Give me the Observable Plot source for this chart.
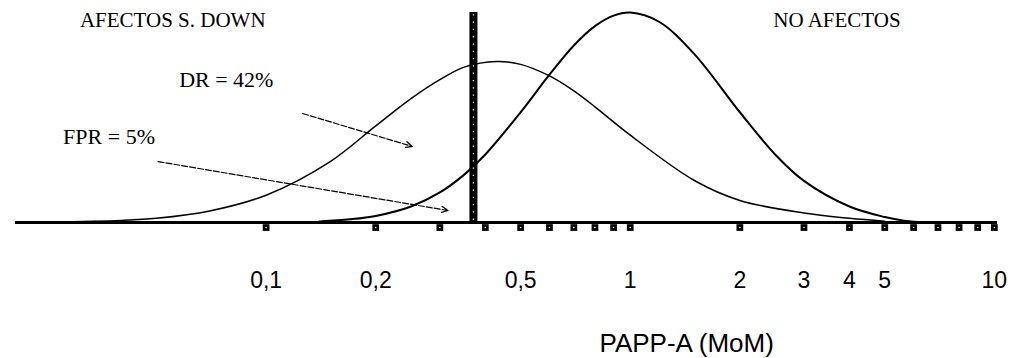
<!DOCTYPE html>
<html>
<head>
<meta charset="utf-8">
<script src="https://cdn.jsdelivr.net/npm/d3@7"></script>
<script src="https://cdn.jsdelivr.net/npm/@observablehq/plot@0.6"></script>
<style>
  body { margin: 0; background: #fff; }
  #chart svg { display: block; }
</style>
</head>
<body>
<div id="chart"></div>
<script>
// PAPP-A (MoM) values and relative frequency (peak of unaffected = 100)
const unaffectedMoM = [0.14, 0.17, 0.2, 0.25, 0.3, 0.35, 0.4, 0.5, 0.6, 0.7, 0.8, 0.9, 1, 1.2, 1.5, 2, 2.5, 3, 4, 5, 5.6, 6.2];
const unaffectedFreq = [0.5, 1.5, 3.1, 7.6, 14.3, 22.8, 32.4, 52.5, 70.4, 84.3, 93.5, 98.5, 100, 95.6, 80.2, 52.5, 32.4, 19.8, 7.6, 2.6, 1, 0.2];

const affectedMoM = [0.025, 0.04, 0.05, 0.07, 0.1, 0.15, 0.2, 0.25, 0.3, 0.35, 0.43, 0.5, 0.6, 0.7, 0.8, 1, 1.5, 2, 3, 4, 5];
const affectedFreq = [0.3, 1, 2, 5.5, 13, 29, 46, 59, 68, 74, 76.7, 75.3, 69.8, 62.7, 55.1, 41.6, 20, 10.5, 4.5, 2, 0.6];

const cutoffMoM = [0.371];

const tickLabels = [0.1, 0.2, 0.5, 1, 2, 3, 4, 5, 10];
const minorTicks = [0.1, 0.2, 0.3, 0.4, 0.5, 0.6, 0.7, 0.8, 0.9, 1, 2, 3, 4, 5, 6, 7, 8, 9, 10];

const groupLabels = ["AFECTOS S. DOWN", "NO AFECTOS"];
const groupLabelMoM = [0.0308, 2.47];
const groupLabelFreq = [96.2, 96.2];

const rateLabels = ["DR = 42%", "FPR = 5%"];
const rateLabelMoM = [0.0577, 0.0277];
const rateLabelFreq = [68.1, 40.5];
const arrowFromMoM = [0.126, 0.0505];
const arrowFromFreq = [51.9, 29.0];
const arrowToMoM = [0.252, 0.316];
const arrowToFreq = [36.2, 5.7];

const xDomain = [0.0205, 10.2];
const axisTitle = "PAPP-A (MoM)";

// tables built from the arrays
const unaffected = unaffectedMoM.map((x, i) => ({x, y: unaffectedFreq[i]}));
const affected = affectedMoM.map((x, i) => ({x, y: affectedFreq[i]}));
const groups = groupLabels.map((t, i) => ({t, x: groupLabelMoM[i], y: groupLabelFreq[i]}));
const rates = rateLabels.map((t, i) => ({t, x: rateLabelMoM[i], y: rateLabelFreq[i]}));
const arrows = arrowFromMoM.map((x1, i) => ({x1, y1: arrowFromFreq[i], x2: arrowToMoM[i], y2: arrowToFreq[i]}));

const serif = "'Liberation Serif', 'DejaVu Serif', serif";
const sans = "'Liberation Sans', Arial, sans-serif";

const chart = Plot.plot({
  width: 1017,
  height: 358,
  marginLeft: 15,
  marginRight: 20,
  marginTop: 12,
  marginBottom: 136,
  style: {background: "#fff", color: "#000", fontFamily: sans},
  x: {type: "log", domain: xDomain, axis: null},
  y: {domain: [0, 100], axis: null},
  marks: [
    Plot.text(tickLabels, {
      x: d => d,
      frameAnchor: "bottom",
      dy: 58,
      text: d => String(d).replace(".", ","),
      lineAnchor: "middle",
      fontSize: 23,
      fontFamily: sans,
      fill: "#000"
    }),
    Plot.line(affected, {x: "x", y: "y", curve: "catmull-rom", stroke: "#000", strokeWidth: 1.5}),
    Plot.line(unaffected, {x: "x", y: "y", curve: "catmull-rom", stroke: "#000", strokeWidth: 2}),
    Plot.ruleY([0], {x1: xDomain[0], x2: xDomain[1], stroke: "#000", strokeWidth: 3}),
    Plot.dot(minorTicks, {x: d => d, y: -2.4, symbol: "square", r: 3.8, fill: "#000", stroke: "none"}),
    Plot.dot(minorTicks, {x: d => d, y: -2.4, r: 0.8, fill: "#fff", stroke: "none"}),
    Plot.ruleX(cutoffMoM, {x: d => d, y1: 0, y2: 100, stroke: "#000", strokeWidth: 8}),
    Plot.ruleX(cutoffMoM, {x: d => d, y1: 1, y2: 99, stroke: "#fff", strokeWidth: 1.3, strokeDasharray: "1.3,6"}),
    Plot.arrow(arrows, {x1: "x1", y1: "y1", x2: "x2", y2: "y2", stroke: "#000", strokeWidth: 1.2, strokeDasharray: "6,2", headLength: 9, headAngle: 50}),
    Plot.text(groups, {x: "x", y: "y", text: "t", textAnchor: "start", lineAnchor: "middle", fontSize: 21, fontFamily: serif, fill: "#000"}),
    Plot.text(rates, {x: "x", y: "y", text: "t", textAnchor: "start", lineAnchor: "middle", fontSize: 22, fontFamily: serif, fill: "#000"}),
    Plot.text([axisTitle], {frameAnchor: "bottom-left", text: d => d, dx: 584, dy: 121, textAnchor: "start", lineAnchor: "middle", fontSize: 26, fontFamily: sans, fill: "#000"})
  ]
});
document.getElementById("chart").append(chart);
</script>
</body>
</html>
